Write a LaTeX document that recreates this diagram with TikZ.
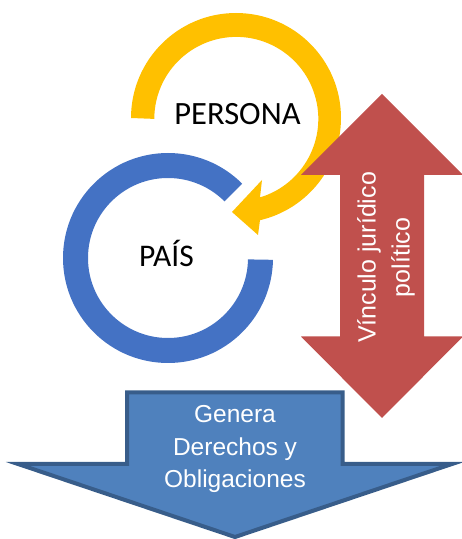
\documentclass[tikz,border=0pt]{standalone}
\usepackage{fontspec}
\setmainfont{Liberation Sans}
\newfontfamily\calibfont{Carlito}
\usetikzlibrary{calc}
\definecolor{ringyellow}{HTML}{FFC000}
\definecolor{ringblue}{HTML}{4472C4}
\definecolor{arrowred}{HTML}{C0504D}
\definecolor{arrowblue}{HTML}{4F81BD}
\definecolor{arrowblueline}{HTML}{385D8A}
\begin{document}
\begin{tikzpicture}[x=1pt,y=1pt,
  ringlabel/.style={text=black, inner sep=0pt, anchor=base},
  arrowtext/.style={text=white, align=center, inner sep=0pt}]
\useasboundingbox (0,0) rectangle (462,539);
% blue ring (PAIS)
\coordinate (bc) at (168,281);
\fill[ringblue] ($(bc)+(45:105)$) arc[start angle=45,end angle=359,radius=105]
  -- ($(bc)+(359:80)$) arc[start angle=359,end angle=45,radius=80] -- cycle;
% yellow ring with arrow head (PERSONA)
\fill[ringyellow] (131,421) arc[start angle=180,end angle=-76.8,radius=105]
  -- (258,304) -- (232,327) -- (262,359) -- (260,341.6)
  arc[start angle=-73.2,end angle=180,radius=82] -- cycle;
\node[ringlabel, font=\calibfont\fontsize{32.5}{39}\selectfont] (persona) at (237.5,414) {PERSONA};
\node[ringlabel, font=\calibfont\fontsize{31.5}{38}\selectfont] (pais) at (166.5,272) {PAÍS};
% red double arrow
\fill[arrowred] (382,445) -- (463,364) -- (424,364) -- (424,202.5) -- (463,202.5)
  -- (382,121) -- (301,202.5) -- (340,202.5) -- (340,364) -- (301,364) -- cycle;
\node[arrowtext, rotate=90, font=\fontsize{25}{34}\selectfont] (vinculo) at (386,281.5) {Vínculo jurídico\\político};
% blue down arrow
\filldraw[fill=arrowblue, draw=arrowblueline, line width=4pt]
  (127,146.5) -- (342.5,146.5) -- (342.5,75) -- (452,75) -- (235,2) -- (18,75) -- (127,75) -- cycle;
\node[arrowtext, font=\fontsize{24.5}{32.5}\selectfont] (genera) at (235,90) {Genera\\Derechos y\\Obligaciones};
\end{tikzpicture}
\end{document}
